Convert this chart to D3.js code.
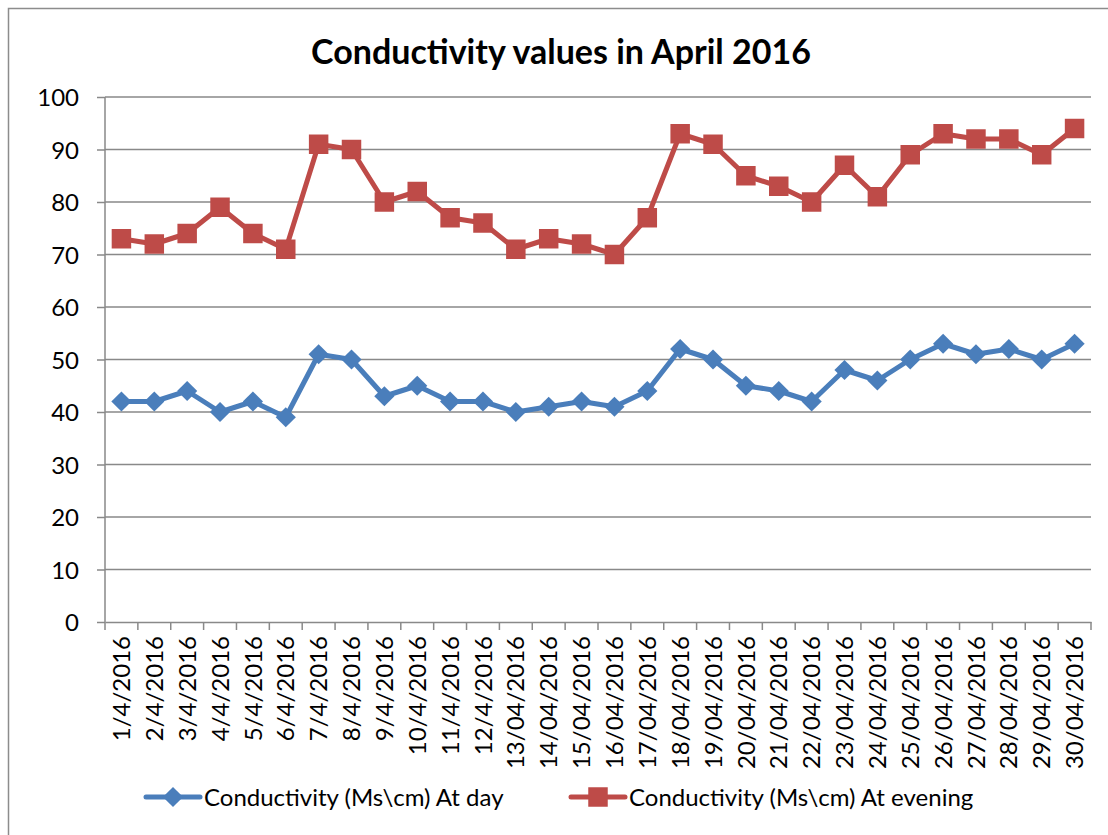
<!DOCTYPE html>
<html>
<head>
<meta charset="utf-8">
<script src="https://cdn.jsdelivr.net/npm/d3@7"></script>
<style>
  body { margin: 0; background: #fff; }
  text { font-family: Lato, "Open Sans", sans-serif; fill: #000; }
</style>
</head>
<body>
<div id="chart"></div>
<script>
var dates = [
    "1/4/2016", "2/4/2016", "3/4/2016", "4/4/2016", "5/4/2016", "6/4/2016",
    "7/4/2016", "8/4/2016", "9/4/2016", "10/4/2016", "11/4/2016", "12/4/2016",
    "13/04/2016", "14/04/2016", "15/04/2016", "16/04/2016", "17/04/2016", "18/04/2016",
    "19/04/2016", "20/04/2016", "21/04/2016", "22/04/2016", "23/04/2016", "24/04/2016",
    "25/04/2016", "26/04/2016", "27/04/2016", "28/04/2016", "29/04/2016", "30/04/2016"
];

var dayValues = [42, 42, 44, 40, 42, 39, 51, 50, 43, 45, 42, 42, 40, 41, 42,
    41, 44, 52, 50, 45, 44, 42, 48, 46, 50, 53, 51, 52, 50, 53];

var eveningValues = [73, 72, 74, 79, 74, 71, 91, 90, 80, 82, 77, 76, 71, 73, 72,
    70, 77, 93, 91, 85, 83, 80, 87, 81, 89, 93, 92, 92, 89, 94];

var yTicks = [0, 10, 20, 30, 40, 50, 60, 70, 80, 90, 100];

var seriesNames = ["Conductivity (Ms\\cm) At day", "Conductivity (Ms\\cm) At evening"];

var svgSize = { width: 1108, height: 835 };
var plot = { left: 105, right: 1091, top: 97, bottom: 622 };
var blue = "#4a7ebb";
var red = "#be4b48";
var gridColor = "#898989";
var labelSize = "24px";

var svg = d3.select("#chart").append("svg")
    .attr("width", svgSize.width)
    .attr("height", svgSize.height);

// outer chart border
svg.append("rect")
    .attr("x", 8.5)
    .attr("y", 8.5)
    .attr("width", 1120)
    .attr("height", 840)
    .attr("fill", "none")
    .attr("stroke", "#8c8c8c")
    .attr("stroke-width", 1.5);

svg.append("text")
    .attr("x", 561)
    .attr("y", 64)
    .attr("text-anchor", "middle")
    .style("font-size", "34px")
    .style("font-weight", "bold")
    .text("Conductivity values in April 2016");

var x = d3.scaleBand()
    .domain(dates)
    .range([plot.left, plot.right]);

var y = d3.scaleLinear()
    .domain([0, 100])
    .range([plot.bottom, plot.top]);

// gridlines + y axis
var yAxis = svg.append("g")
    .attr("transform", "translate(" + plot.left + ",0)")
    .call(d3.axisLeft(y).tickValues(yTicks).tickSize(8).tickPadding(18));
yAxis.select(".domain").remove();
yAxis.selectAll(".tick line").attr("stroke", gridColor).attr("stroke-width", 1.5);
yAxis.selectAll(".tick text").style("font-size", labelSize).attr("dy", "0.36em");

svg.append("g")
    .selectAll("line")
    .data(yTicks.filter(function(d) { return d > 0; }))
    .enter().append("line")
    .attr("x1", plot.left)
    .attr("x2", plot.right)
    .attr("y1", function(d) { return y(d); })
    .attr("y2", function(d) { return y(d); })
    .attr("stroke", gridColor)
    .attr("stroke-width", 1.5);

svg.append("line")
    .attr("x1", plot.left)
    .attr("x2", plot.left)
    .attr("y1", plot.top)
    .attr("y2", plot.bottom)
    .attr("stroke", gridColor)
    .attr("stroke-width", 1.5);

// x axis
var xAxis = svg.append("g")
    .attr("transform", "translate(0," + plot.bottom + ")")
    .call(d3.axisBottom(x).tickSize(0));
xAxis.select(".domain").attr("stroke", gridColor).attr("stroke-width", 1.5);
xAxis.selectAll(".tick text")
    .style("font-size", labelSize)
    .attr("text-anchor", "end")
    .attr("transform", "rotate(-90)")
    .attr("x", -14)
    .attr("y", 0)
    .attr("dy", "0.36em");

var boundaries = dates.map(function(d) { return x(d); }).concat([plot.right]);
svg.append("g")
    .selectAll("line")
    .data(boundaries)
    .enter().append("line")
    .attr("x1", function(d) { return d; })
    .attr("x2", function(d) { return d; })
    .attr("y1", plot.bottom)
    .attr("y2", plot.bottom + 8)
    .attr("stroke", gridColor)
    .attr("stroke-width", 1.5);

var cx = function(d, i) { return x(dates[i]) + x.bandwidth() / 2; };

var line = d3.line()
    .x(function(d, i) { return cx(d, i); })
    .y(function(d) { return y(d); });

var diamond = d3.symbol().type(d3.symbolDiamond2).size(260);
var square = d3.symbol().type(d3.symbolSquare).size(380);

function drawSeries(values, color, symbol) {
    svg.append("path")
        .datum(values)
        .attr("fill", "none")
        .attr("stroke", color)
        .attr("stroke-width", 5)
        .attr("stroke-linejoin", "round")
        .attr("d", line);
    svg.append("g")
        .selectAll("path")
        .data(values)
        .enter().append("path")
        .attr("d", symbol)
        .attr("fill", color)
        .attr("transform", function(d, i) {
            return "translate(" + cx(d, i) + "," + y(d) + ")";
        });
}

drawSeries(dayValues, blue, diamond);
drawSeries(eveningValues, red, square);

// legend
var legendItems = [
    { name: seriesNames[0], color: blue, symbol: diamond, x: 146 },
    { name: seriesNames[1], color: red, symbol: square, x: 571 }
];
var legendY = 797;
legendItems.forEach(function(item) {
    svg.append("line")
        .attr("x1", item.x)
        .attr("x2", item.x + 54)
        .attr("y1", legendY)
        .attr("y2", legendY)
        .attr("stroke", item.color)
        .attr("stroke-width", 5)
        .attr("stroke-linecap", "round");
    svg.append("path")
        .attr("d", item.symbol)
        .attr("fill", item.color)
        .attr("transform", "translate(" + (item.x + 27) + "," + legendY + ")");
    svg.append("text")
        .attr("x", item.x + 58)
        .attr("y", legendY)
        .attr("dy", "0.36em")
        .style("font-size", labelSize)
        .text(item.name);
});
</script>
</body>
</html>
